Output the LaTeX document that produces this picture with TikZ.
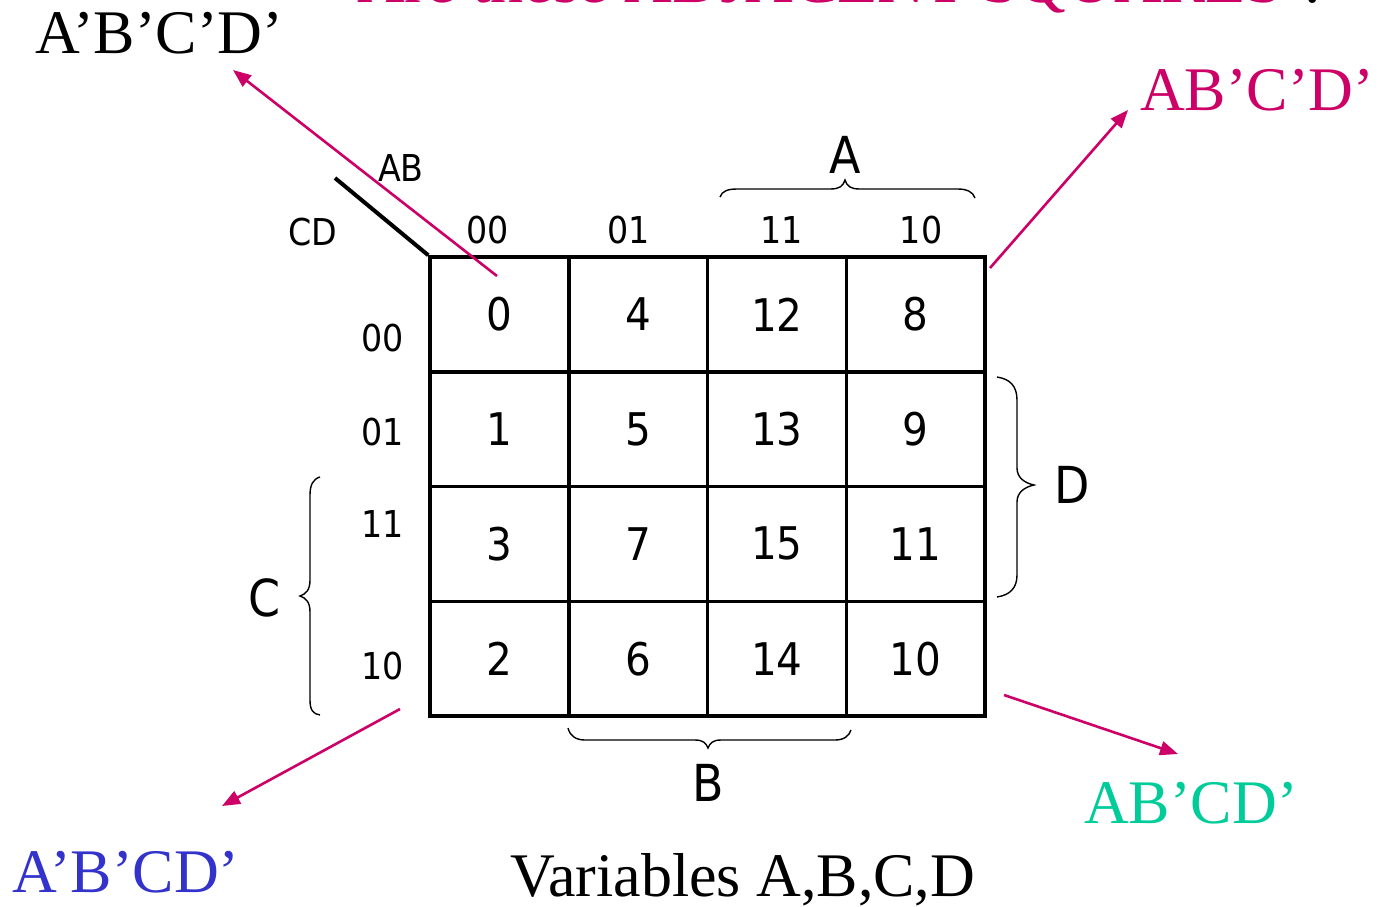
\documentclass[tikz,border=0pt]{standalone}
\usepackage{fontspec}
\setmainfont{Liberation Serif}
\newfontfamily\kfont{DejaVu Sans Condensed}
\usetikzlibrary{arrows.meta}
\definecolor{mag}{HTML}{CC0066}
\definecolor{blu}{HTML}{3333CC}
\definecolor{grn}{HTML}{00CC99}
\begin{document}
\begin{tikzpicture}[x=1pt,y=-1pt,
  big/.style={font=\fontsize{62}{70}\selectfont, inner sep=0, anchor=base west},
  cellbox/.style={draw, line width=3.5pt, minimum width=138.75pt, minimum height=114.75pt, inner sep=0,
     font=\kfont\fontsize{45}{50}\selectfont},
  lab/.style={font=\kfont\fontsize{37}{42}\selectfont, inner sep=0},
  var/.style={font=\kfont\fontsize{51}{56}\selectfont, inner sep=0},
  arr/.style={draw=mag, line width=2.6pt, -{Triangle[length=18pt,width=14pt]}},
  brc/.style={draw, line width=1.4pt}
]
\useasboundingbox (0,0) rectangle (1379,906);
% title (cut at top)
\node[big, font=\fontsize{66}{72}\selectfont, text=mag] (title) at (357,2) {Are these ADJACENT SQUARES \textcolor{black}{?}};
% cells
\foreach \r/\row in {0/{0,4,12,8},1/{1,5,13,9},2/{3,7,15,11},3/{2,6,14,10}} {
  \foreach \v [count=\c from 0] in \row {
    \node[cellbox] (c\v) at ({430+138.75*(\c+0.5)},{257+114.75*(\r+0.5)}) {\v};
  }
}
% corner diagonal
\coordinate (dg) at (335,178);
\draw[line width=4pt] (dg) -- (c0.north west);
\node[lab] (ab) at (401,168) {AB};
\node[lab] (cd) at (313,232) {CD};
% column labels
\node[lab] (k00) at (488,230) {00};
\node[lab] (k01) at (629,230) {01};
\node[lab] (k11) at (782,230) {11};
\node[lab] (k10) at (921,230) {10};
% row labels
\node[lab] (r00) at (383,338) {00};
\node[lab] (r01) at (383,432) {01};
\node[lab] (r11) at (383,524) {11};
\node[lab] (r10) at (383,666) {10};
% braces
\draw[brc] (720,197) .. controls (722,191) and (728,189) .. (737,189) -- (830,189) .. controls (840,189) and (843,186) .. (845,180) .. controls (847,186) and (850,189) .. (860,189) -- (958,189) .. controls (967,189) and (973,192) .. (975,198);
\node[var] (lA) at (845,155) {A};
\draw[brc] (568,728) .. controls (570,736) and (576,740) .. (585,740) -- (695,740) .. controls (703,740) and (706,743) .. (708,748) .. controls (710,743) and (713,740) .. (721,740) -- (835,740) .. controls (844,740) and (849,736) .. (851,730);
\node[var] (lB) at (708,783) {B};
\draw[brc] (320,477) .. controls (313,479) and (310,485) .. (310,495) -- (310,580) .. controls (310,590) and (306,594) .. (300,596) .. controls (306,598) and (310,602) .. (310,612) -- (310,700) .. controls (310,710) and (313,714) .. (320,715);
\node[var] (lC) at (265,598) {C};
\draw[brc] (997,377) .. controls (1010,379) and (1017,386) .. (1017,400) -- (1017,468) .. controls (1017,478) and (1025,483) .. (1034,485) .. controls (1025,487) and (1017,492) .. (1017,502) -- (1017,575) .. controls (1017,588) and (1010,595) .. (997,597);
\node[var] (lD) at (1072,485) {D};
% texts
\node[big] (t1) at (35,53) {A’B’C’D’};
\node[big, text=mag] (t2) at (1140,110) {AB’C’D’};
\node[big, text=blu] (t3) at (12,892) {A’B’CD’};
\node[big, text=grn] (t4) at (1084,823) {AB’CD’};
\node[big] (vars) at (510,896) {Variables A,B,C,D};
% arrows
\coordinate (s1) at (497,276); \coordinate (e1) at (233,70);
\coordinate (s2) at (990,268); \coordinate (e2) at (1128,110);
\coordinate (s3) at (400,709); \coordinate (e3) at (222,806);
\coordinate (s4) at (1004,695); \coordinate (e4) at (1178,754);
\draw[arr] (s1) -- (e1);
\draw[arr] (s2) -- (e2);
\draw[arr] (s3) -- (e3);
\draw[arr] (s4) -- (e4);
\end{tikzpicture}
\end{document}
